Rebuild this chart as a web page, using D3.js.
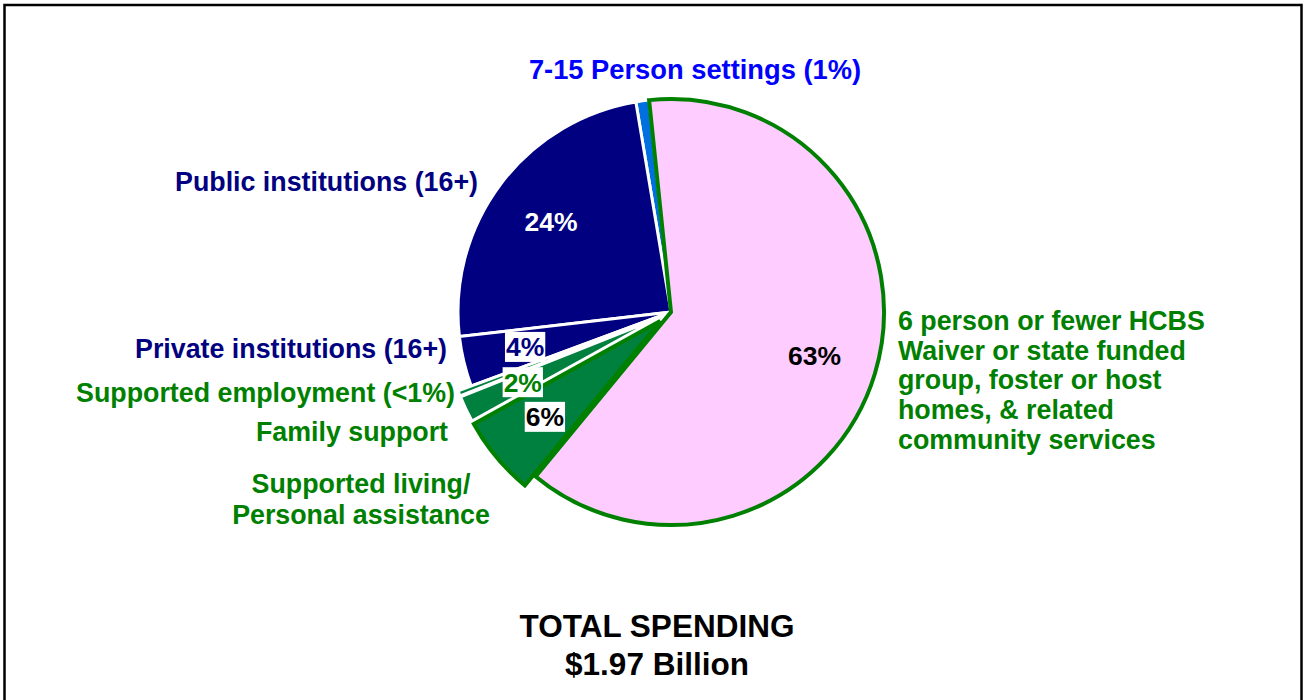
<!DOCTYPE html>
<html><head><meta charset="utf-8">
<script src="https://cdn.jsdelivr.net/npm/d3@7"></script>
<style>html,body{margin:0;padding:0;background:#fff;}svg{display:block;font-family:"Liberation Sans",Arial,sans-serif;font-weight:bold;}</style>
</head><body>
<svg id="c" width="1306" height="700"></svg>
<script>
// Data (share of total spending, %)
const categories = ["6 person or fewer HCBS", "Supported living/Personal assistance", "Family support", "Supported employment", "Private institutions (16+)", "Public institutions (16+)", "7-15 Person settings"];
const shares = [62.6, 6.0, 2.0, 0.4, 3.8, 24.2, 1.0];
const pctLabels = ["63%", "6%", "2%", "", "4%", "24%", ""];
const fills = ["#FFCCFF", "#00803F", "#00803F", "#00803F", "#000080", "#000080", "#0070E0"];
const strokes = ["#008000", "#008000", "#ffffff", "#ffffff", "#ffffff", "#ffffff", "#ffffff"];
const explode = [0, 14, 14, 14, 0, 0, 0];
const pctColors = ["#000000", "#000000", "#008000", "", "#000080", "#ffffff", ""];
const pctBoxed = [false, true, true, false, true, false, false];

const svg = d3.select("#c");
// frame
svg.append("rect").attr("x", 4.5).attr("y", 5).attr("width", 1297).attr("height", 720)
  .attr("fill", "none").attr("stroke", "#000").attr("stroke-width", 2.5);

const cx = 671, cy = 312, R = 213;
const g = svg.append("g").attr("transform", `translate(${cx},${cy})`);
const pie = d3.pie().sort(null).value(d => d)
  .startAngle(-5.9 * Math.PI / 180).endAngle((360 - 5.9) * Math.PI / 180);
const arcs = pie(shares);
const arc = d3.arc().innerRadius(0).outerRadius(R);
const labelArc = d3.arc().innerRadius(150).outerRadius(150);
function off(d, i) {
  const a = (d.startAngle + d.endAngle) / 2;
  return [Math.sin(a) * explode[i], -Math.cos(a) * explode[i]];
}
// draw order: white-stroked slices first, then green-stroked
const order = [6, 5, 4, 3, 2, 0, 1];
order.forEach(i => {
  const d = arcs[i];
  const o = off(d, i);
  g.append("path").attr("d", arc(d))
    .attr("transform", `translate(${o[0]},${o[1]})`)
    .attr("fill", fills[i]).attr("stroke", strokes[i])
    .attr("stroke-width", strokes[i] === "#ffffff" ? 3 : 4)
    .attr("stroke-linejoin", "miter");
});
// percentage labels
arcs.forEach((d, i) => {
  if (!pctLabels[i]) return;
  const o = off(d, i);
  const c = labelArc.centroid(d);
  const x = c[0] + o[0], y = c[1] + o[1];
  const t = g.append("text").attr("x", x).attr("y", y + 9.5).attr("text-anchor", "middle")
    .attr("font-size", 26.5).attr("fill", pctColors[i]).text(pctLabels[i]);
  if (pctBoxed[i]) {
    const bb = t.node().getBBox();
    g.insert("rect", () => t.node()).attr("x", bb.x - 1).attr("y", y - 15).attr("width", bb.width + 2).attr("height", 30).attr("fill", "#fff");
  }
});

function label(lines, x, y0, lh, anchor, color, size) {
  const t = svg.append("text").attr("text-anchor", anchor).attr("fill", color).attr("font-size", size);
  lines.forEach((s, k) => t.append("tspan").attr("x", x).attr("y", y0 + k * lh).text(s));
}
const navy = "#000080", green = "#008000", blue = "#0000FF";
const fs = 26.8;
label(["7-15 Person settings (1%)"], 695, 79, 0, "middle", blue, 27.3);
label(["Public institutions (16+)"], 478, 191, 0, "end", navy, fs);
label(["Private institutions (16+)"], 447, 358, 0, "end", navy, fs);
label(["Supported employment (<1%)"], 455, 402, 0, "end", green, fs);
label(["Family support"], 448, 441, 0, "end", green, fs);
label(["Supported living/", "Personal assistance"], 361, 493, 30.5, "middle", green, fs);
label(["6 person or fewer HCBS", "Waiver or state funded", "group, foster or host", "homes, & related", "community services"], 898, 330, 29.7, "start", green, fs);
label(["TOTAL SPENDING", "$1.97 Billion"], 657, 637, 38, "middle", "#000", 31.5);
</script>
</body></html>
